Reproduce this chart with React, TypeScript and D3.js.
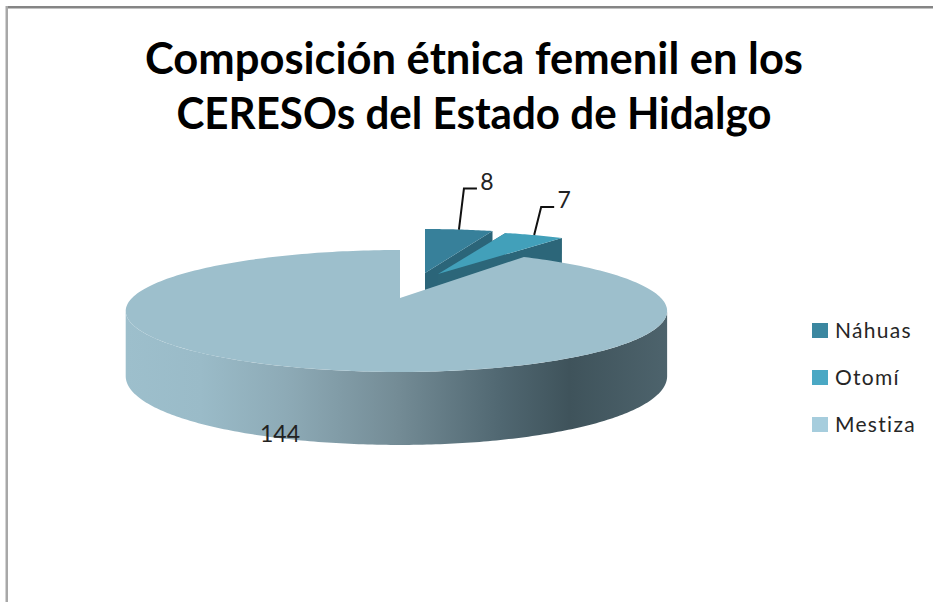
import React from "react";
import * as d3 from "d3";

const categories = ["Náhuas", "Otomí", "Mestiza"];
const values = [8, 7, 144];
const titleLines = ["Composición étnica femenil en los", "CERESOs del Estado de Hidalgo"];
const titleWidths = [658, 595];
const topColors = ["#37809a", "#42a0ba", "#9dbfcc"];
const wallColors = ["#2b6579", "#2c6679", "#9dbfcc"];
const legendColors = ["#3b87a0", "#4aa8c4", "#a6cddd"];
const explode: [number, number][] = [[25, -21], [38, -19], [0, 0]];
const apexLift = [-4, -5, 0];
const labelOffsets: [number, number][] = [[5, -41], [7, -28], [0, 0]];

const W = 933, H = 602;
const CX = 400, CY = 298;
const K = 0.213, HY = 58.2, AL = 268, AR = 261;
const DEPTH = 63, DEPTH_FRONT = 10;

// projects a point of the unit disc (perspective view of the pie)
function project(r: number, a: number): [number, number] {
  const u = r * Math.sin(a), v = r * Math.cos(a);
  const w = 1 + K * v;
  return [CX + ((u < 0 ? AL : AR) * u) / w, CY - (HY * v) / w];
}
function depthAt(a: number) {
  return DEPTH - DEPTH_FRONT * Math.cos(a);
}
const line = d3.line<[number, number]>();
function shift(pts: [number, number][], o: [number, number]): [number, number][] {
  return pts.map(([x, y]) => [x + o[0], y + o[1]] as [number, number]);
}
function arcPts(a0: number, a1: number, n = 160): [number, number][] {
  return d3.range(n + 1).map((i) => project(1, a0 + ((a1 - a0) * i) / n));
}
function down(p: [number, number], a: number): [number, number] {
  return [p[0], p[1] + depthAt(a)];
}

const arcs = d3.pie<number>().sort(null).startAngle(0).endAngle(2 * Math.PI)(values);

export default function App() {
  const small = arcs.slice(0, 2);
  const big = arcs[2];
  // outer wall of the big slice: between the two widest points of the rim
  const a0 = Math.acos(-K);
  const a1 = 2 * Math.PI - a0;
  const rim = arcPts(a0, a1, 200);
  const angles = d3.range(201).map((i) => a0 + ((a1 - a0) * i) / 200);
  const rimBottom = rim.map((p, i) => down(p, angles[i])).reverse();
  const wall = line([...rim, ...rimBottom]) + "Z";

  return (
    <svg width={W} height={H} style={{ position: "absolute", left: 0, top: 0, background: "#fff" }}>
      <defs>
        <linearGradient id="side" gradientUnits="userSpaceOnUse" x1={125} x2={667} y1={0} y2={0}>
          <stop offset="0" stopColor="#9dbfcc" />
          <stop offset="0.14" stopColor="#9abbc8" />
          <stop offset="0.3" stopColor="#8daab6" />
          <stop offset="0.5" stopColor="#748c96" />
          <stop offset="0.7" stopColor="#4f6670" />
          <stop offset="0.82" stopColor="#3f535b" />
          <stop offset="1" stopColor="#4d636c" />
        </linearGradient>
      </defs>

      {/* frame */}
      <rect x={6} y={6} width={W} height={2.5} fill="#858585" />
      <rect x={5.5} y={6} width={2.5} height={H} fill="#a8a8a8" />

      {/* title */}
      <g fontFamily="Lato, sans-serif" fontWeight={700} fontSize={43} fill="#000" textAnchor="middle">
        {titleLines.map((t, i) => (
          <text key={t} x={474} y={74 + i * 55} textLength={titleWidths[i]} lengthAdjust="spacingAndGlyphs">{t}</text>
        ))}
      </g>

      {/* exploded small slices */}
      {small.map((s, i) => {
        const o = explode[i];
        const apex: [number, number] = [CX + o[0], CY + o[1] + apexLift[i]];
        const pts = shift(arcPts(s.startAngle, s.endAngle, 24), o);
        const back = shift([project(1, s.endAngle)], o)[0];
        const sideEnd: [number, number][] = [
          apex,
          back,
          [back[0], back[1] + 70],
          [apex[0], apex[1] + 70],
        ];
        const startP = pts[0];
        const sideStart: [number, number][] = [
          apex,
          startP,
          [startP[0], startP[1] + 70],
          [apex[0], apex[1] + 70],
        ];
        return (
          <g key={categories[i]}>
            <path d={line(sideStart) + "Z"} fill={wallColors[i]} />
            <path d={line(sideEnd) + "Z"} fill={wallColors[i]} />
            <path d={line([apex, ...pts]) + "Z"} fill={topColors[i]} />
          </g>
        );
      })}

      {/* big slice */}
      <path d={wall} fill="url(#side)" />
      <path d={line([[CX, CY], ...arcPts(big.startAngle, big.endAngle, 240)]) + "Z"} fill={topColors[2]} />

      {/* leader lines and labels */}
      {small.map((s, i) => {
        const mid = (s.startAngle + s.endAngle) / 2;
        const p = shift([project(1, mid)], explode[i])[0];
        const q: [number, number] = [p[0] + labelOffsets[i][0], p[1] + labelOffsets[i][1]];
        const r: [number, number] = [q[0] + 13, q[1]];
        return (
          <g key={"l" + i}>
            <path d={line([p, q, r]) as string} fill="none" stroke="#111" strokeWidth={2} />
            <text x={r[0] + 10} y={q[1] + 1} textAnchor="middle" fontFamily="Lato, sans-serif" fontSize={23} fill="#222">
              {values[i]}
            </text>
          </g>
        );
      })}
      <text x={280} y={442} textAnchor="middle" fontFamily="Lato, sans-serif" fontSize={23} fill="#222">
        {values[2]}
      </text>

      {/* legend */}
      {categories.map((c, i) => (
        <g key={c}>
          <rect x={812} y={323 + i * 47} width={16} height={15} fill={legendColors[i]} />
          <text x={835} y={338 + i * 47} fontFamily="Lato, sans-serif" fontSize={21} letterSpacing={1.3} fill="#262626">
            {c}
          </text>
        </g>
      ))}
    </svg>
  );
}
